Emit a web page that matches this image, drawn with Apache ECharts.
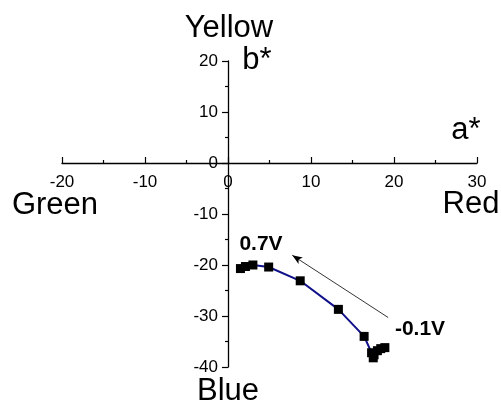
<!DOCTYPE html>
<html>
<head>
<meta charset="utf-8">
<script src="https://cdn.jsdelivr.net/npm/echarts@6/dist/echarts.min.js"></script>
<style>
html,body{margin:0;padding:0;background:#fff;}
#main{width:501px;height:402px;}
</style>
</head>
<body>
<div id="main"></div>
<script>
// a* values (x) and b* values (y), from -0.1V to 0.7V
var aValues = [18.9, 18.4, 18.0, 17.6, 17.5, 17.3, 16.4, 13.3, 8.7, 4.9, 3.0, 2.1, 1.5];
var bValues = [-36.2, -36.4, -36.8, -37.6, -38.2, -37.2, -34.0, -28.7, -23.1, -20.4, -20.0, -20.3, -20.7];
var xTicks = [-20, -10, 0, 10, 20, 30];
var yTicks = [-40, -30, -20, -10, 0, 10, 20];
var arrowStart = [19.3, -30.3];
var arrowEnd = [7.75, -18.1];
var labelStart = '-0.1V';
var labelEnd = '0.7V';

var points = aValues.map(function (a, i) { return [a, bValues[i]]; });
var font = 'Arial, "Liberation Sans", sans-serif';
var W = 501, H = 402;
var gridL = 62, gridR = 24, gridT = 61, gridB = 35;

var chart = echarts.init(document.getElementById('main'), null, {renderer: 'canvas'});

function txt(text, x, y, size, bold) {
  return {
    type: 'text', x: x, y: y, silent: true,
    style: {
      text: text, fill: '#000', align: 'center', verticalAlign: 'middle',
      font: (bold ? 'bold ' : '') + size + 'px ' + font
    }
  };
}

chart.setOption({
  animation: false,
  backgroundColor: '#fff',
  grid: {left: gridL, right: gridR, top: gridT, bottom: gridB, containLabel: false},
  xAxis: {
    type: 'value', min: xTicks[0], max: xTicks[xTicks.length - 1], interval: 10,
    axisLine: {onZero: false, lineStyle: {color: '#000', width: 1.3}},
    axisTick: {show: true, inside: true, length: 6, lineStyle: {color: '#000', width: 1.2}},
    minorTick: {show: true, splitNumber: 2, length: 3, lineStyle: {color: '#000', width: 1.2}},
    axisLabel: {color: '#000', fontSize: 17, fontFamily: font, margin: 11},
    splitLine: {show: false}
  },
  yAxis: {
    type: 'value', min: yTicks[0], max: yTicks[yTicks.length - 1], interval: 10,
    axisLine: {onZero: false, lineStyle: {color: '#000', width: 1.3}},
    axisTick: {show: true, inside: false, length: 6, lineStyle: {color: '#000', width: 1.2}},
    minorTick: {show: true, splitNumber: 2, length: 3, lineStyle: {color: '#000', width: 1.2}},
    axisLabel: {color: '#000', fontSize: 17, fontFamily: font, margin: 10},
    splitLine: {show: false}
  },
  series: [{
    type: 'line',
    data: points,
    symbol: 'rect',
    symbolSize: 9,
    z: 3,
    itemStyle: {color: '#000'},
    lineStyle: {color: '#10108a', width: 2},
    markLine: {
      silent: true,
      symbol: ['none', 'arrow'],
      symbolSize: [6, 10],
      label: {show: false},
      lineStyle: {color: '#000', width: 0.8, type: 'solid'},
      data: [[{coord: arrowStart}, {coord: arrowEnd}]]
    }
  }],
  graphic: [
    txt('Yellow', 229, 28.5, 31),
    txt('b*', 257, 60.5, 31),
    txt('a*', 466, 130.5, 31),
    txt('Green', 55, 205, 31),
    txt('Red', 471, 204.5, 31),
    txt('Blue', 228, 391, 31),
    txt(labelEnd, 261, 244, 21, true),
    txt(labelStart, 420, 329, 21, true)
  ]
});

// move both axes (line, ticks and labels) to cross at the origin
var origin = chart.convertToPixel({gridIndex: 0}, [0, 0]);
chart.setOption({
  xAxis: {offset: -((H - gridB) - origin[1])},
  yAxis: {offset: -(origin[0] - gridL)}
});
</script>
</body>
</html>
